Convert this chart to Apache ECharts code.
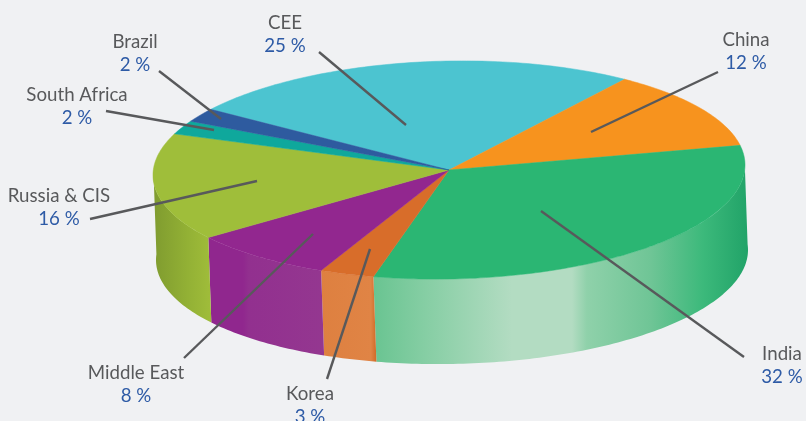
<!DOCTYPE html>
<html>
<head>
<meta charset="utf-8">
<title>Regions</title>
<style>
  html, body { margin: 0; padding: 0; background: #f0f1f3; }
  #chart { width: 806px; height: 421px; }
</style>
</head>
<body>
<div id="chart"></div>
<script src="https://cdn.jsdelivr.net/npm/echarts@6/dist/echarts.min.js"></script>
<script>
const categories = ['CEE', 'China', 'India', 'Korea', 'Middle East', 'Russia & CIS', 'South Africa', 'Brazil']
const shares = [25, 12, 32, 3, 8, 16, 2, 2]

const topColors = ['#4cc4d0', '#f7931e', '#2bb673', '#d86d2a', '#92278f', '#9fbe3a', '#0fa89c', '#2e5b9f']
const wallStops = [
  null,
  null,
  [[0, '#69c491'], [0.14, '#86cea4'], [0.37, '#b3dcc2'], [0.53, '#b3dcc2'], [0.57, '#8fd1aa'], [0.74, '#6fc596'], [0.88, '#3cb97b'], [1, '#21a368']],
  [[0, '#de8040'], [0.9, '#e08445'], [1, '#cf6a27']],
  [[0, '#90278e'], [0.3, '#90278e'], [0.35, '#92308f'], [1, '#943790']],
  [[0, '#7f9b2f'], [0.6, '#93b135'], [1, '#a0bd3a']],
  null,
  null
]

// label block centre, then leader line from outside to the slice
const labelLayout = [
  { x: 285, y: 23, line: [319, 52, 406, 125] },
  { x: 746, y: 40, line: [718, 72, 591, 132] },
  { x: 782, y: 354, line: [744, 357, 541, 211] },
  { x: 310, y: 394, line: [327, 379, 370, 249] },
  { x: 136, y: 373, line: [184, 358, 313, 234] },
  { x: 59, y: 196, line: [90, 219, 257, 181] },
  { x: 77, y: 95, line: [106, 111, 214, 130] },
  { x: 135, y: 42, line: [159, 71, 221, 119] }
]

const pie = { cx: 449, cy: 170, rx: 296, ry: 109, tilt: 0.017, startAngle: 143.6, offX: 3, offY: 85 }
const textFont = '18.7px Lato'

const project = (deg, dx = 0, dy = 0) => {
  const t = deg * Math.PI / 180
  const x = pie.rx * Math.cos(t)
  const y = -pie.ry * Math.sin(t) - pie.tilt * x
  return [pie.cx + x + dx, pie.cy + y + dy]
}

const sliceAngles = (index) => {
  const before = shares.slice(0, index).reduce((a, b) => a + b, 0)
  const start = pie.startAngle - before * 3.6
  return [start, start - shares[index] * 3.6]
}

const arcPoints = (from, to, dx, dy) => {
  const steps = Math.max(2, Math.ceil(Math.abs(to - from)))
  const points = []
  for (let i = 0; i <= steps; i++) {
    points.push(project(from + (to - from) * i / steps, dx, dy))
  }
  return points
}

const renderWall = (params, api) => {
  const index = params.dataIndex
  const stops = wallStops[index]
  if (!stops) return null
  let [from, to] = sliceAngles(index)
  // only the front half of the cake is visible
  if (from > 0) from = 3
  if (to < -180) to = -183
  const points = arcPoints(from, to, 0, 0).concat(arcPoints(to, from, pie.offX, pie.offY))
  return {
    type: 'polygon',
    shape: { points },
    style: {
      fill: new echarts.graphic.LinearGradient(0, 0, 1, 0, stops.map(s => ({ offset: s[0], color: s[1] })))
    }
  }
}

const renderTop = (params, api) => {
  const [from, to] = sliceAngles(params.dataIndex)
  const color = topColors[params.dataIndex]
  return {
    type: 'polygon',
    shape: { points: [[pie.cx, pie.cy]].concat(arcPoints(from, to, 0, 0)) },
    style: { fill: color, stroke: color, lineWidth: 0.5 }
  }
}

const renderLabel = (params, api) => {
  const index = params.dataIndex
  const item = labelLayout[index]
  const [x1, y1, x2, y2] = item.line
  return {
    type: 'group',
    children: [
      {
        type: 'line',
        shape: { x1, y1, x2, y2 },
        style: { stroke: '#58595b', lineWidth: 2.4 }
      },
      {
        type: 'text',
        style: { text: categories[index], x: item.x, y: item.y, align: 'center', verticalAlign: 'middle', fill: '#58595b', font: textFont }
      },
      {
        type: 'text',
        style: { text: api.value(0) + ' %', x: item.x, y: item.y + 23, align: 'center', verticalAlign: 'middle', fill: '#2e5ba6', font: textFont }
      }
    ]
  }
}

const myChart = echarts.init(document.getElementById('chart'))
const seriesData = shares.map(v => [v])

myChart.setOption({
  animation: false,
  backgroundColor: '#f0f1f3',
  series: [
    { type: 'custom', coordinateSystem: 'none', z: 1, data: seriesData, renderItem: renderWall },
    { type: 'custom', coordinateSystem: 'none', z: 2, data: seriesData, renderItem: renderTop },
    { type: 'custom', coordinateSystem: 'none', z: 3, data: seriesData, renderItem: renderLabel }
  ]
})
</script>
</body>
</html>
